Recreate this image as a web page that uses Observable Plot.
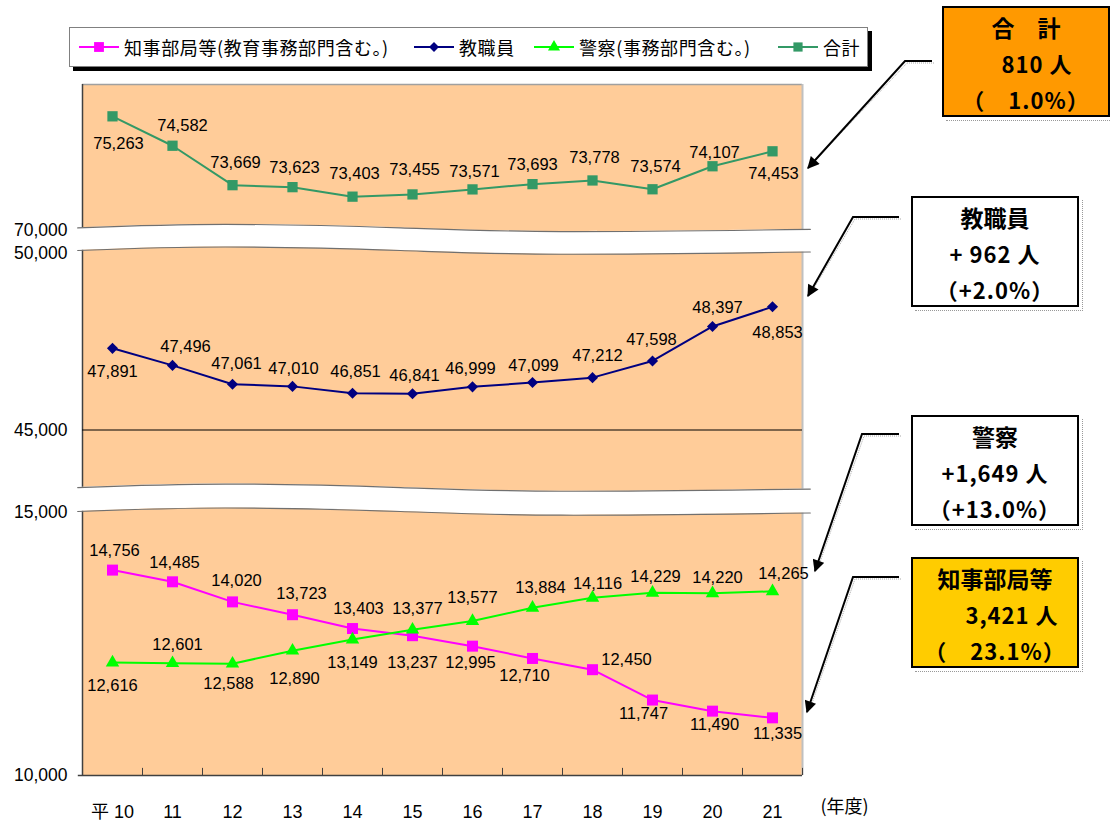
<!DOCTYPE html>
<html lang="ja">
<head>
<meta charset="utf-8">
<script src="https://cdn.jsdelivr.net/npm/d3@7"></script>
<script src="https://cdn.jsdelivr.net/npm/@observablehq/plot@0.6"></script>
<style>
html,body{margin:0;padding:0;background:#fff;}
#wrap{position:relative;width:1111px;height:823px;overflow:hidden;font-family:"Liberation Sans","Noto Sans CJK JP",sans-serif;}
#chart{position:absolute;left:0;top:0;}
.legend{position:absolute;left:69px;top:27px;width:797px;height:38px;border:1px solid #808080;background:#fff;box-shadow:4px 4px 0 #000;}
.legend .item{position:absolute;top:0;height:38px;display:flex;align-items:center;font-family:"Noto Sans CJK JP",sans-serif;font-size:18px;letter-spacing:0.6px;color:#000;white-space:nowrap;}
.legend .item svg{margin-right:5px;}
.callout{position:absolute;width:168px;height:111px;border:2px solid #000;box-sizing:border-box;font-family:"Noto Sans CJK JP",sans-serif;font-weight:bold;font-size:22px;line-height:36px;text-align:center;padding-top:1px;color:#000;}
.callout div{white-space:pre;letter-spacing:1px;}
.callout div.title{font-size:23px;letter-spacing:0;}
.callout::after{content:"";position:absolute;left:2px;top:2px;right:-6px;bottom:-6px;border-right:1px dotted #999;border-bottom:1px dotted #999;pointer-events:none;}
#overlay{position:absolute;left:0;top:0;pointer-events:none;}
</style>
</head>
<body>
<div id="wrap">
  <div id="chart"></div>
  <div class="legend" id="legend"></div>
  <svg id="overlay" width="1111" height="823"></svg>
</div>
<script>
// ---------- data ----------
const years = [10, 11, 12, 13, 14, 15, 16, 17, 18, 19, 20, 21];
const yearLabels = ["平 10", "11", "12", "13", "14", "15", "16", "17", "18", "19", "20", "21"];
const seriesNames = ["知事部局等(教育事務部門含む。)", "教職員", "警察(事務部門含む。)", "合計"];
const chijiValues = [14756, 14485, 14020, 13723, 13403, 13237, 12995, 12710, 12450, 11747, 11490, 11335];
const kyoshokuinValues = [47891, 47496, 47061, 47010, 46851, 46841, 46999, 47099, 47212, 47598, 48397, 48853];
const keisatsuValues = [12616, 12601, 12588, 12890, 13149, 13377, 13577, 13884, 14116, 14229, 14220, 14265];
const totalValues = [75263, 74582, 73669, 73623, 73403, 73455, 73571, 73693, 73778, 73574, 74107, 74453];
const yTickLabels = ["10,000", "15,000", "45,000", "50,000", "70,000"];
const xAxisUnit = "(年度)";

const calloutTitles = ["合　計", "教職員", "警察", "知事部局等"];
const calloutChanges = ["810 人", "+ 962 人", "+1,649 人", "3,421 人"];
const calloutRates = ["（　1.0%）", "（+2.0%）", "（+13.0%）", "（　23.1%）"];

// ---------- layout (broken axis: panels shifted onto one scale) ----------
const panelShift = [0, 28000, 0, 50000];
const yTickAt = [10000, 16100, 18000, 22090, 22620];
const gridAt = [18000];
const breaks = [{lo: 16113, hi: 16668}, {lo: 22156, hi: 22680}];
const breakX = [9.42, 11.88, 14.8, 17.47, 21.63];
const breakWave = [0, 81, 0, -86, -35];

const colors = ["#FF00FF", "#000080", "#00FF00", "#339966"];
const symbols = ["square", "diamond2", "triangle", "square"];
const radii = [6.2, 5.0, 5.0, 5.8];

const chijiLabelDx = [2, 2, 4, 9, 6, 0, -2, -8, 34, -9, 2, 5];
const chijiLabelDy = [-19, -19, -21, -21, -20, 27, 17, 17, -10, 14, 14, 16];
const kyoshokuinLabelDx = [0, 13, 4, 1, 3, 2, -2, 1, 5, -1, 5, 5];
const kyoshokuinLabelDy = [23, -19, -20, -18, -22, -18, -18, -17, -22, -21, -19, 26];
const keisatsuLabelDx = [0, 5, -4, 2, 0, 5, 0, 8, 5, 3, 5, 11];
const keisatsuLabelDy = [23, -18, 20, 28, 23, -21, -23, -20, -14, -16, -16, -18];
const totalLabelDx = [6, 10, 3, 2, 2, 2, 2, 0, 2, 3, 2, 1];
const totalLabelDy = [27, -20, -22, -19, -23, -25, -18, -19, -23, -23, -14, 22];

const seriesValues = [chijiValues, kyoshokuinValues, keisatsuValues, totalValues];
const labelDx = [chijiLabelDx, kyoshokuinLabelDx, keisatsuLabelDx, totalLabelDx];
const labelDy = [chijiLabelDy, kyoshokuinLabelDy, keisatsuLabelDy, totalLabelDy];

const fmt = d3.format(",");
const numFont = '"Liberation Sans", Arial, sans-serif';

const series = seriesNames.map((name, s) => ({
  name, color: colors[s], symbol: symbols[s], r: radii[s],
  rows: years.map((yr, i) => ({year: yr, value: seriesValues[s][i], py: seriesValues[s][i] - panelShift[s], dx: labelDx[s][i], dy: labelDy[s][i]}))
}));

const bandRows = breaks.map(b => breakX.map((x, i) => ({x, lo: b.lo + breakWave[i], hi: b.hi + breakWave[i]})));
const xBoundaries = d3.range(years.length + 1).map(i => years[0] - 0.5 + i);

const marks = [
  Plot.frame({fill: "#FFCC99", stroke: "none"}),
  Plot.ruleY([26000], {x1: 9.5, x2: 21.5, stroke: "#a0a0a0", strokeWidth: 1.5}),
  Plot.ruleX([21.5], {y1: 10000, y2: 26000, stroke: "#c0c0c0", strokeWidth: 2}),
  Plot.ruleX([9.5], {y1: 10000, y2: 26000, stroke: "#404040", strokeWidth: 1.5}),
  Plot.ruleY(gridAt, {x1: 9.5, x2: 21.5, stroke: "#000", strokeWidth: 1}),
];
for (const rows of bandRows) {
  marks.push(Plot.areaY(rows, {x: "x", y1: "lo", y2: "hi", fill: "#fff", curve: "natural"}));
  marks.push(Plot.line(rows, {x: "x", y: "lo", stroke: "#707070", strokeWidth: 1.2, curve: "natural"}));
  marks.push(Plot.line(rows, {x: "x", y: "hi", stroke: "#707070", strokeWidth: 1.2, curve: "natural"}));
}
marks.push(Plot.ruleY([10000], {x1: 9.43, x2: 21.5, stroke: "#404040", strokeWidth: 1.5}));
marks.push(Plot.ruleX(xBoundaries, {y1: 10000, y2: 10165, stroke: "#404040", strokeWidth: 1}));
for (const s of series) {
  marks.push(Plot.line(s.rows, {x: "year", y: "py", stroke: s.color, strokeWidth: 2}));
  marks.push(Plot.dot(s.rows, {x: "year", y: "py", symbol: s.symbol, r: s.r, fill: s.color, stroke: "none"}));
}
for (const s of series) {
  for (const d of s.rows) {
    marks.push(Plot.text([d], {x: "year", y: "py", text: r => fmt(r.value), dx: d.dx, dy: d.dy, fontSize: 16.5, fontFamily: numFont, fill: "#000"}));
  }
}
marks.push(Plot.axisY(yTickAt, {tickFormat: d => yTickLabels[yTickAt.indexOf(d)], tickSize: 0, tickPadding: 15, fontSize: 17.5, fontFamily: numFont, anchor: "left", label: null}));
marks.push(Plot.axisX(years, {tickFormat: d => yearLabels[years.indexOf(d)], tickSize: 0, tickPadding: 30, fontSize: 18, anchor: "bottom", label: null}));
marks.push(Plot.text([xAxisUnit], {x: 21.5, y: 10000, dx: 42, dy: 32, fontSize: 18, fill: "#000", fontFamily: '"Noto Sans CJK JP", sans-serif'}));

const chart = Plot.plot({
  width: 1111, height: 823,
  marginLeft: 82, marginRight: 309, marginTop: 84, marginBottom: 48,
  x: {domain: [9.5, 21.5]},
  y: {domain: [10000, 26000]},
  style: {fontFamily: '"Liberation Sans","Noto Sans CJK JP",sans-serif', fontSize: "16px", color: "#000", background: "transparent", overflow: "visible"},
  marks
});
document.getElementById("chart").appendChild(chart);

// ---------- legend ----------
const legendLeft = [9, 344, 464, 708];
const legend = document.getElementById("legend");
series.forEach((s, i) => {
  const item = document.createElement("div");
  item.className = "item";
  item.style.left = legendLeft[i] + "px";
  const sym = d3.symbol(d3["symbol" + (s.symbol === "square" ? "Square" : s.symbol === "triangle" ? "Triangle" : "Diamond2")], Math.PI * s.r * s.r * 0.8)();
  item.innerHTML = `<svg width="40" height="20"><line x1="0" x2="40" y1="10" y2="10" stroke="${s.color}" stroke-width="2"/><path d="${sym}" transform="translate(20,10)" fill="${s.color}"/></svg><span>${s.name}</span>`;
  legend.appendChild(item);
});

// ---------- callouts ----------
const calloutBoxes = [
  {left: 942, top: 6, bg: "#FF9900", shift: [0, 22, 0]},
  {left: 911, top: 196, bg: "#FFFFFF", shift: [0, 0, 0]},
  {left: 911, top: 415, bg: "#FFFFFF", shift: [0, 0, 0]},
  {left: 911, top: 557, bg: "#FFCC00", shift: [0, 34, 0]}
];
const wrap = document.getElementById("wrap");
calloutBoxes.forEach((b, i) => {
  const el = document.createElement("div");
  el.className = "callout";
  el.style.left = b.left + "px";
  el.style.top = b.top + "px";
  el.style.background = b.bg;
  [calloutTitles[i], calloutChanges[i], calloutRates[i]].forEach((t, k) => {
    const line = document.createElement("div");
    if (k === 0) line.className = "title";
    line.textContent = t;
    line.style.paddingLeft = b.shift[k] + "px";
    el.appendChild(line);
  });
  wrap.insertBefore(el, document.getElementById("overlay"));
});

const calloutArrows = [
  {x0: 932, y0: 61, x1: 905, tx: 808, ty: 168},
  {x0: 899, y0: 217, x1: 853, tx: 808, ty: 296},
  {x0: 899, y0: 434, x1: 862, tx: 815, ty: 571},
  {x0: 899, y0: 577, x1: 853, tx: 807, ty: 712}
];
const ov = d3.select("#overlay");
ov.append("defs").append("marker")
  .attr("id", "ah").attr("viewBox", "0 0 10 10").attr("refX", 9).attr("refY", 5)
  .attr("markerWidth", 14).attr("markerHeight", 12).attr("markerUnits", "userSpaceOnUse")
  .attr("orient", "auto")
  .append("path").attr("d", "M0,0L10,5L0,10Z").attr("fill", "#000");
calloutArrows.forEach(a => {
  ov.append("path")
    .attr("d", `M${a.x0 + 2},${a.y0 + 2}L${a.x1 + 2},${a.y0 + 2}L${a.tx + 3},${a.ty - 3}`)
    .attr("fill", "none").attr("stroke", "#aaa").attr("stroke-width", 1).attr("stroke-dasharray", "1,1");
  ov.append("path")
    .attr("d", `M${a.x0},${a.y0}L${a.x1},${a.y0}L${a.tx},${a.ty}`)
    .attr("fill", "none").attr("stroke", "#000").attr("stroke-width", 2)
    .attr("marker-end", "url(#ah)");
});
</script>
</body>
</html>
